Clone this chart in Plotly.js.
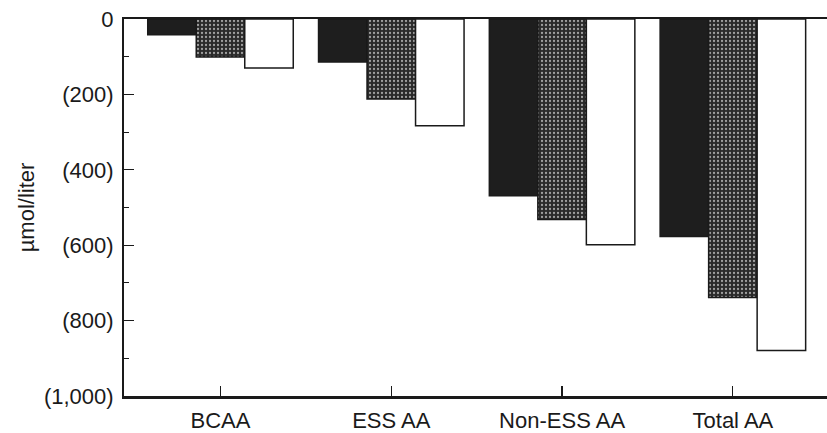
<!DOCTYPE html>
<html>
<head>
<meta charset="utf-8">
<script src="https://cdn.plot.ly/plotly-3.0.1.min.js"></script>
<style>html,body{margin:0;padding:0;background:#fff;}#chart{width:827px;height:433px;}</style>
</head>
<body>
<div id="chart"></div>
<script>
const categories = ["BCAA", "ESS AA", "Non-ESS AA", "Total AA"];
const seriesBlack = [-42, -114, -469, -577];
const seriesStipple = [-101, -212, -532, -739];
const seriesWhite = [-130, -283, -599, -879];
const yTickVals = [0, -200, -400, -600, -800, -1000];
const yTickText = ["0", "(200)", "(400)", "(600)", "(800)", "(1,000)"];
const yTitle = "µmol/liter";

const FONT = "Liberation Sans, Arial, Helvetica, sans-serif";
const outline = {color: "#1a1a1a", width: 1.5};

const traces = [
  {type: "bar", name: "Series 1", x: categories, y: seriesBlack,
   marker: {color: "#1e1e1e", line: outline}},
  {type: "bar", name: "Series 2", x: categories, y: seriesStipple,
   marker: {color: "#2a2a2a", line: outline,
            pattern: {shape: ".", fgcolor: "#a0a0a0", bgcolor: "#2a2a2a", size: 4, solidity: 0.25, fillmode: "replace"}}},
  {type: "bar", name: "Series 3", x: categories, y: seriesWhite,
   marker: {color: "#ffffff", line: outline}}
];

const layout = {
  width: 827, height: 433,
  margin: {l: 124, r: 0, t: 19, b: 37},
  paper_bgcolor: "#fff", plot_bgcolor: "#fff",
  showlegend: false,
  barmode: "group", bargap: 0.148, bargroupgap: 0,
  font: {family: FONT, color: "#1a1a1a", size: 22},
  xaxis: {
    type: "category",
    range: [-0.565, 3.551],
    showline: true, linecolor: "#1a1a1a", linewidth: 2.5, mirror: true,
    ticks: "inside", ticklen: 10, tickwidth: 1.2, tickcolor: "#1a1a1a",
    showgrid: false, zeroline: false,
    tickfont: {family: FONT, size: 22, color: "#1a1a1a"},
    ticklabelstandoff: 3
  },
  yaxis: {
    range: [-1000, 0],
    showline: true, linecolor: "#1a1a1a", linewidth: 2,
    ticks: "inside", ticklen: 10, tickwidth: 1.2, tickcolor: "#1a1a1a",
    tickvals: yTickVals, ticktext: yTickText,
    minor: {dtick: 100, ticks: "inside", ticklen: 5, tickwidth: 1, tickcolor: "#1a1a1a", showgrid: false},
    showgrid: false, zeroline: false,
    tickfont: {family: FONT, size: 22, color: "#1a1a1a"},
    ticklabelstandoff: 4,
    title: {text: yTitle, font: {family: FONT, size: 22, color: "#1a1a1a"}, standoff: 3}
  }
};

Plotly.newPlot("chart", traces, layout, {displayModeBar: false, staticPlot: true});
</script>
</body>
</html>
